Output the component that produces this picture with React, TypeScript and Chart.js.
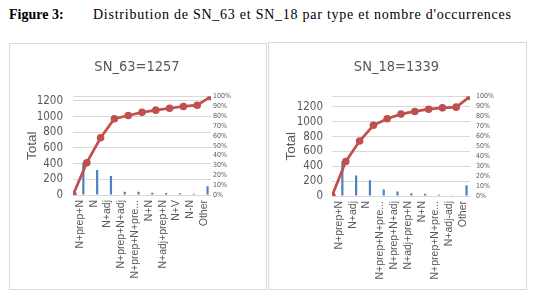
import React, { useEffect, useRef } from "react";
import { Chart, registerables } from "chart.js";

Chart.register(...registerables);

// ---- Data ----
const sn63Title = "SN_63=1257";
const sn63Total = 1257;
const sn63Labels = [
  "N+prep+N",
  "N",
  "N+adj",
  "N+prep+N+adj",
  "N+prep+N+pre...",
  "N+N",
  "N+adj+prep+N",
  "N+V",
  "N-N",
  "Other",
];
const sn63Counts = [412, 318, 243, 42, 40, 28, 24, 23, 16, 111];

const sn18Title = "SN_18=1339";
const sn18Total = 1339;
const sn18Labels = [
  "N+prep+N",
  "N+adj",
  "N",
  "N+prep+N+pre...",
  "N+prep+N+adj",
  "N+adj+prep+N",
  "N+N",
  "N+prep+N+pre...",
  "N+adj-adj",
  "Other",
];
const sn18Counts = [465, 275, 212, 88, 62, 36, 30, 18, 10, 143];

const countTicks = [0, 200, 400, 600, 800, 1000, 1200];
const percentTicks = [0, 0.1, 0.2, 0.3, 0.4, 0.5, 0.6, 0.7, 0.8, 0.9, 1];

const captionLabel = "Figure 3:";
const captionText = "Distribution de SN_63 et SN_18 par type et nombre d'occurrences";

const SANS = "'Liberation Sans', Arial, sans-serif";
const NARROW = "'Liberation Sans Narrow', 'Arial Narrow', 'DejaVu Sans Condensed', 'Liberation Sans', sans-serif";
const GREY = "#595959";
const GRID = "#d9d9d9";
const BAR = "#4f81bd";
const LINE = "#c0504d";

type Geo = {
  left: number;
  top: number;
  width: number;
  height: number;
  plotLeft: number;
  rightAxis: number;
  xAxisH: number;
  titlePadTop: number;
  titlePadBottom: number;
  yTickPad: number;
  y2TickPad: number;
};

function Pareto(props: {
  title: string;
  labels: string[];
  counts: number[];
  total: number;
  geo: Geo;
}) {
  const ref = useRef<HTMLCanvasElement | null>(null);
  const { title, labels, counts, total, geo } = props;

  useEffect(() => {
    if (!ref.current) return;
    const cumul: { x: number; y: number }[] = [{ x: 0, y: 0 }];
    let s = 0;
    counts.forEach((c, i) => {
      s += c;
      cumul.push({ x: i + 1, y: s / total });
    });

    const chart = new Chart(ref.current, {
      type: "bar",
      data: {
        labels,
        datasets: [
          {
            type: "line",
            data: cumul as any,
            xAxisID: "x2",
            yAxisID: "y2",
            borderColor: LINE,
            backgroundColor: LINE,
            borderWidth: 2.7,
            pointRadius: 3.8,
            pointBorderWidth: 0,
            pointBackgroundColor: LINE,
            tension: 0,
            order: 0,
          } as any,
          {
            type: "bar",
            data: counts,
            xAxisID: "x",
            yAxisID: "y",
            backgroundColor: BAR,
            barPercentage: 0.32,
            categoryPercentage: 1,
            order: 1,
          } as any,
        ],
      },
      options: {
        responsive: false,
        animation: false,
        layout: { padding: 0 },
        plugins: {
          legend: { display: false },
          tooltip: { enabled: false },
          title: {
            display: true,
            text: title,
            color: GREY,
            font: { family: NARROW, size: 14.5, weight: "normal" as any, lineHeight: 1.2 },
            padding: { top: geo.titlePadTop, bottom: geo.titlePadBottom },
          },
        },
        scales: {
          x: {
            type: "category",
            position: "bottom",
            offset: true,
            grid: { display: false, drawTicks: false },
            border: { display: false },
            ticks: {
              autoSkip: false,
              minRotation: 90,
              maxRotation: 90,
              padding: 5,
              color: GREY,
              font: { family: SANS, size: 10.5 },
            },
            afterFit: (sc: any) => {
              sc.height = geo.xAxisH;
            },
          },
          x2: {
            type: "linear",
            display: false,
            offset: false,
            position: "bottom",
            min: 0,
            max: labels.length,
            grid: { offset: false },
          },
          y: {
            type: "linear",
            position: "left",
            min: 0,
            max: total,
            afterBuildTicks: (sc: any) => {
              sc.ticks = [...countTicks, total].map((v) => ({ value: v }));
            },
            ticks: {
              autoSkip: false,
              padding: geo.yTickPad,
              color: GREY,
              font: { family: NARROW, size: 11.5 },
              callback: (v: any) => (countTicks.includes(Number(v)) ? String(v) : ""),
            },
            grid: { color: GRID, lineWidth: 1, drawTicks: false },
            border: { display: false },
            title: {
              display: true,
              text: "Total",
              color: GREY,
              font: { family: SANS, size: 13.5, weight: "normal" as any, lineHeight: 1.2 },
              padding: { top: 14, bottom: 0 },
            },
            afterFit: (sc: any) => {
              sc.width = geo.plotLeft;
            },
          },
          y2: {
            type: "linear",
            position: "right",
            min: 0,
            max: 1,
            afterBuildTicks: (sc: any) => {
              sc.ticks = percentTicks.map((v) => ({ value: v }));
            },
            ticks: {
              autoSkip: false,
              padding: geo.y2TickPad,
              color: GREY,
              font: { family: NARROW, size: 7 },
              callback: (v: any) => Math.round(Number(v) * 100) + "%",
            },
            grid: { display: false, drawTicks: false },
            border: { display: false },
            afterFit: (sc: any) => {
              sc.width = geo.rightAxis;
            },
          },
        },
      } as any,
    });
    return () => chart.destroy();
  }, []);

  return (
    <div
      style={{
        position: "absolute",
        left: geo.left,
        top: geo.top,
        width: geo.width + 2,
        height: geo.height + 2,
        border: "1px solid #d9d9d9",
        boxSizing: "border-box",
        background: "#fff",
      }}
    >
      <canvas
        ref={ref}
        width={geo.width - 2}
        height={geo.height - 2}
        style={{ display: "block", width: geo.width - 2, height: geo.height - 2 }}
      />
    </div>
  );
}

const leftGeo: Geo = {
  left: 9,
  top: 43,
  width: 256,
  height: 245,
  plotLeft: 63,
  rightAxis: 53,
  xAxisH: 92,
  titlePadTop: 14.3,
  titlePadBottom: 20.8,
  yTickPad: 10,
  y2TickPad: 2,
};

const rightGeo: Geo = {
  left: 268,
  top: 42,
  width: 257,
  height: 246,
  plotLeft: 63,
  rightAxis: 54,
  xAxisH: 91,
  titlePadTop: 15.3,
  titlePadBottom: 20.8,
  yTickPad: 9,
  y2TickPad: 6,
};

export default function App() {
  return (
    <div
      style={{
        position: "absolute",
        left: 0,
        top: 0,
        width: 542,
        height: 302,
        background: "#fff",
        overflow: "hidden",
      }}
    >
      <span
        style={{
          position: "absolute",
          left: 9,
          top: 8,
          fontFamily: "'Liberation Serif', serif",
          fontSize: 14,
          lineHeight: "14px",
          fontWeight: "bold",
          whiteSpace: "nowrap",
          color: "#000",
        }}
      >
        {captionLabel}
      </span>
      <span
        style={{
          position: "absolute",
          left: 93,
          top: 8,
          fontFamily: "'Liberation Serif', serif",
          fontSize: 14,
          lineHeight: "14px",
          letterSpacing: "0.75px",
          whiteSpace: "nowrap",
          color: "#000",
        }}
      >
        {captionText}
      </span>
      <Pareto title={sn63Title} labels={sn63Labels} counts={sn63Counts} total={sn63Total} geo={leftGeo} />
      <Pareto title={sn18Title} labels={sn18Labels} counts={sn18Counts} total={sn18Total} geo={rightGeo} />
    </div>
  );
}
